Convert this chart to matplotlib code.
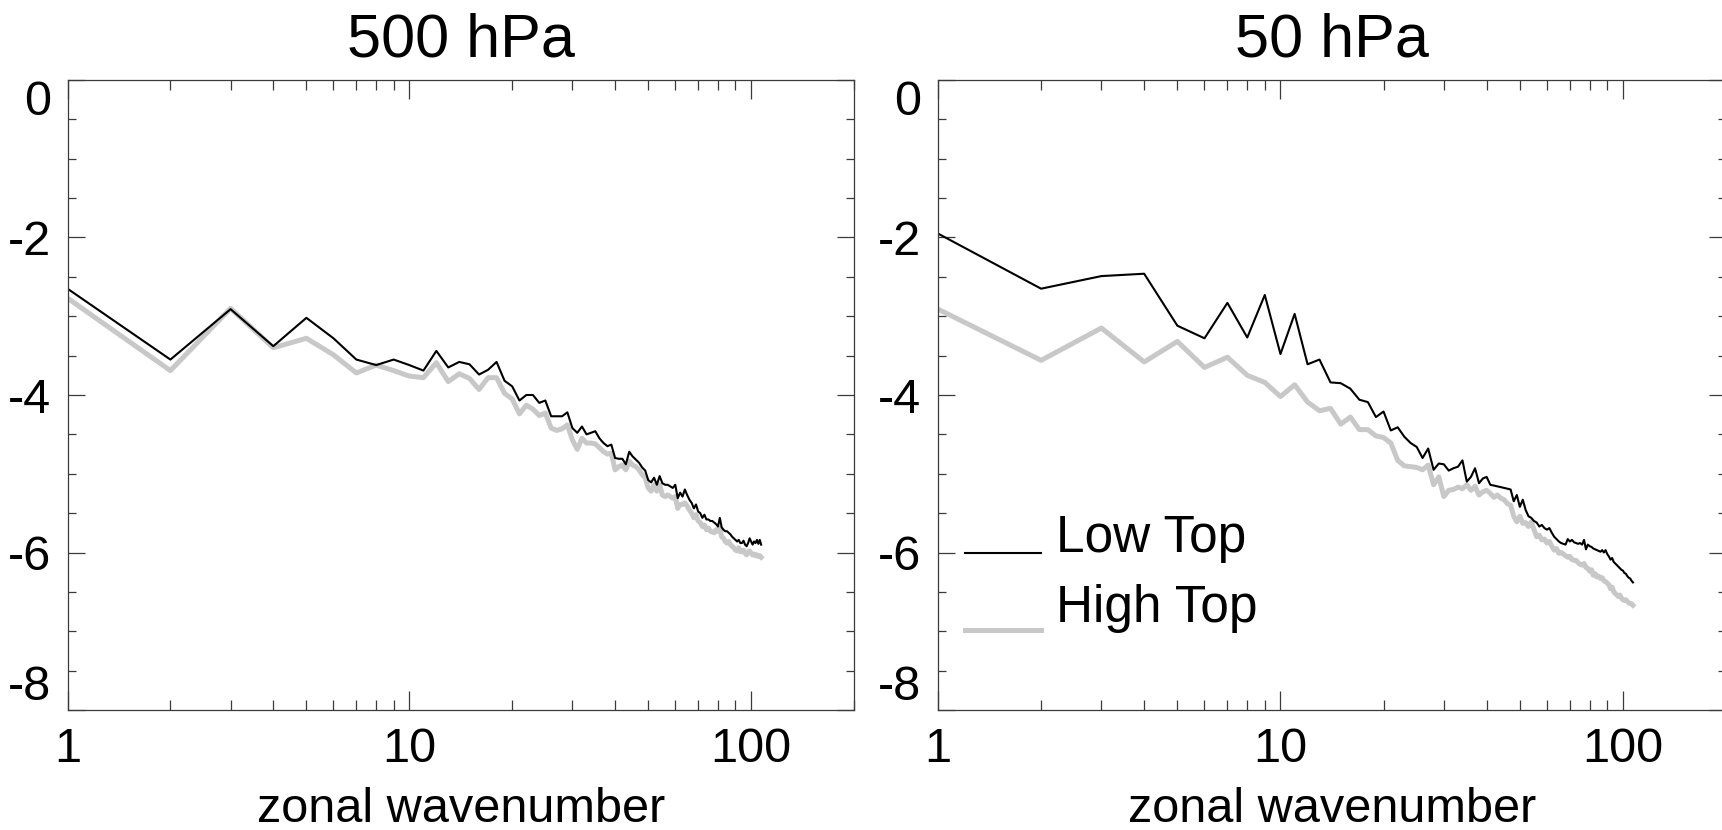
import numpy as np
import matplotlib
matplotlib.use("Agg")
import matplotlib.pyplot as plt
from matplotlib.ticker import FixedLocator, LogLocator, NullFormatter

plt.rcParams['font.family'] = ['Liberation Sans', 'DejaVu Sans']
plt.rcParams['axes.unicode_minus'] = False

# ---- data ----
wavenumber = np.arange(1, 108)

low_500 = [-2.65, -3.55, -2.91, -3.38, -3.02, -3.28, -3.55, -3.62, -3.55, -3.62,
           -3.69, -3.44, -3.65, -3.58, -3.61, -3.74, -3.68, -3.58, -3.82, -3.89,
           -4.07, -4.00, -4.00, -4.10, -4.07, -4.27, -4.27, -4.27, -4.22, -4.42,
           -4.48, -4.40, -4.50, -4.48, -4.46, -4.55, -4.61, -4.65, -4.63, -4.80,
           -4.81, -4.81, -4.88, -4.72, -4.78, -4.82, -4.86, -4.92, -4.96, -5.08,
           -5.11, -5.05, -5.14, -5.03, -5.12, -5.14, -5.14, -5.16, -5.18, -5.14,
           -5.31, -5.24, -5.29, -5.20, -5.27, -5.33, -5.37, -5.44, -5.39, -5.48,
           -5.50, -5.56, -5.52, -5.58, -5.58, -5.60, -5.60, -5.62, -5.64, -5.67,
           -5.56, -5.68, -5.71, -5.73, -5.73, -5.75, -5.77, -5.80, -5.82, -5.84,
           -5.86, -5.84, -5.88, -5.88, -5.85, -5.90, -5.92, -5.88, -5.82, -5.86,
           -5.90, -5.86, -5.88, -5.84, -5.89, -5.84, -5.90]

high_500 = [-2.77, -3.69, -2.90, -3.40, -3.28, -3.49, -3.72, -3.62, -3.69, -3.76,
            -3.78, -3.59, -3.83, -3.73, -3.79, -3.93, -3.78, -3.78, -3.98, -4.05,
            -4.24, -4.13, -4.18, -4.26, -4.23, -4.42, -4.45, -4.43, -4.38, -4.57,
            -4.69, -4.55, -4.61, -4.61, -4.62, -4.67, -4.72, -4.75, -4.74, -4.95,
            -4.91, -4.89, -4.95, -4.84, -4.89, -4.91, -4.95, -5.01, -5.05, -5.18,
            -5.22, -5.14, -5.22, -5.14, -5.27, -5.29, -5.27, -5.29, -5.31, -5.29,
            -5.44, -5.39, -5.39, -5.37, -5.41, -5.46, -5.50, -5.56, -5.52, -5.60,
            -5.62, -5.67, -5.65, -5.71, -5.69, -5.73, -5.74, -5.75, -5.71, -5.73,
            -5.69, -5.80, -5.82, -5.86, -5.88, -5.86, -5.90, -5.92, -5.94, -5.97,
            -5.98, -5.94, -5.99, -5.99, -5.97, -6.01, -6.03, -5.99, -5.98, -6.01,
            -6.03, -6.02, -6.04, -6.03, -6.05, -6.04, -6.06]

low_50 = [-1.95, -2.65, -2.49, -2.46, -3.12, -3.28, -2.83, -3.27, -2.73, -3.48,
          -2.97, -3.61, -3.55, -3.84, -3.85, -3.92, -4.06, -4.09, -4.28, -4.21,
          -4.45, -4.41, -4.53, -4.61, -4.66, -4.80, -4.68, -4.95, -4.87, -4.88,
          -4.96, -4.93, -4.91, -4.83, -5.10, -5.04, -4.93, -5.12, -5.06, -5.04,
          -5.14, -5.15, -5.16, -5.17, -5.18, -5.19, -5.20, -5.35, -5.27, -5.42,
          -5.33, -5.46, -5.54, -5.56, -5.60, -5.62, -5.67, -5.65, -5.69, -5.71,
          -5.69, -5.75, -5.80, -5.83, -5.86, -5.88, -5.89, -5.90, -5.83, -5.86,
          -5.84, -5.87, -5.88, -5.89, -5.88, -5.90, -5.84, -5.96, -5.90, -5.92,
          -5.93, -5.95, -5.96, -5.97, -5.98, -5.99, -5.97, -6.00, -5.97, -6.02,
          -6.05, -6.09, -6.07, -6.12, -6.14, -6.16, -6.18, -6.20, -6.22, -6.23,
          -6.26, -6.27, -6.30, -6.32, -6.33, -6.36, -6.38]

high_50 = [-2.91, -3.56, -3.15, -3.58, -3.32, -3.65, -3.52, -3.75, -3.84, -4.02,
           -3.87, -4.09, -4.20, -4.17, -4.37, -4.28, -4.44, -4.44, -4.52, -4.54,
           -4.61, -4.83, -4.90, -4.91, -4.92, -4.95, -4.89, -5.14, -5.04, -5.29,
           -5.21, -5.20, -5.17, -5.19, -5.14, -5.21, -5.16, -5.27, -5.23, -5.21,
           -5.25, -5.30, -5.27, -5.31, -5.33, -5.38, -5.40, -5.54, -5.61, -5.54,
           -5.63, -5.62, -5.67, -5.61, -5.71, -5.80, -5.78, -5.84, -5.83, -5.88,
           -5.86, -5.92, -5.97, -5.95, -6.01, -6.00, -6.02, -6.04, -6.06, -6.05,
           -6.09, -6.10, -6.10, -6.13, -6.15, -6.16, -6.14, -6.19, -6.20, -6.24,
           -6.22, -6.29, -6.27, -6.31, -6.30, -6.33, -6.32, -6.36, -6.37, -6.39,
           -6.41, -6.46, -6.44, -6.50, -6.52, -6.54, -6.56, -6.54, -6.58, -6.60,
           -6.61, -6.60, -6.62, -6.64, -6.65, -6.65, -6.67]

titles = ["500 hPa", "50 hPa"]
series_names = ["Low Top", "High Top"]
y_ticks = [-8, -6, -4, -2, 0]
x_ticks = [1, 10, 100]

GRAY = "#c8c8c8"
AXC = "#3a3a3a"
FS = 35

# ---- figure ----
fig = plt.figure(figsize=(17.22, 8.30), dpi=100)
ax_l = fig.add_axes([67.5 / 1722, 120 / 830, 786.5 / 1722, 630 / 830])
ax_r = fig.add_axes([938 / 1722, 120 / 830, 788 / 1722, 630 / 830])

panels = [(ax_l, low_500, high_500), (ax_r, low_50, high_50)]

for i, (ax, low, high) in enumerate(panels):
    ax.plot(wavenumber, high, color=GRAY, lw=3.6)
    ax.plot(wavenumber, low, color="black", lw=1.5)

    ax.set_xscale("log")
    ax.set_xlim(1, 200)
    ax.set_ylim(-8, 0)

    ax.set_xticks(x_ticks, [str(t) for t in x_ticks])
    ax.xaxis.set_minor_locator(LogLocator(base=10, subs=range(2, 10)))
    ax.xaxis.set_minor_formatter(NullFormatter())
    ax.yaxis.set_major_locator(FixedLocator(y_ticks))
    ax.set_yticklabels([str(t) for t in y_ticks])
    ax.yaxis.set_minor_locator(FixedLocator(np.arange(-8, 0.01, 0.5)))

    ax.tick_params(axis="both", which="both", direction="in", top=True, right=True,
                   color=AXC, width=0.9, labelsize=FS)
    ax.tick_params(axis="x", which="major", length=14, pad=12)
    ax.tick_params(axis="x", which="minor", length=7)
    ax.tick_params(axis="y", which="major", length=12, pad=12)
    ax.tick_params(axis="y", which="minor", length=6)

    labs = ax.get_yticklabels()
    labs[0].set_va("bottom")
    labs[-1].set_va("top")

    for sp in ax.spines.values():
        sp.set_color(AXC)
        sp.set_linewidth(0.9)

    ax.set_title(titles[i], fontsize=44, pad=17)
    ax.set_xlabel("zonal wavenumber", fontsize=FS, va="baseline")
    ax.xaxis.set_label_coords(0.5, -0.178)

# legend drawn by hand in the right panel
ax_r.plot([0.034, 0.131], [0.250, 0.250], color="black", lw=1.5,
          transform=ax_r.transAxes, clip_on=False)
ax_r.plot([0.034, 0.131], [0.127, 0.127], color=GRAY, lw=3.6,
          transform=ax_r.transAxes, clip_on=False)
ax_r.text(0.150, 0.251, series_names[0], transform=ax_r.transAxes,
          fontsize=37, va="baseline", ha="left")
ax_r.text(0.150, 0.140, series_names[1], transform=ax_r.transAxes,
          fontsize=37, va="baseline", ha="left")

fig.savefig("out.png", dpi=100)
